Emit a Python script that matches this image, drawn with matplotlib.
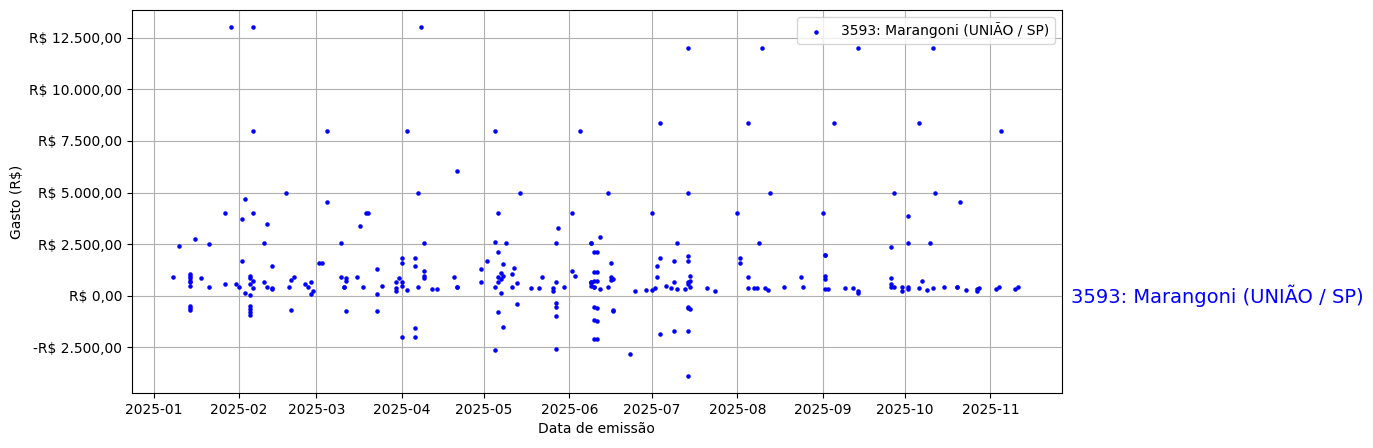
import matplotlib
matplotlib.use('Agg')
import matplotlib.pyplot as plt
import matplotlib.dates as mdates
import matplotlib.ticker as mticker
import pandas as pd

label = '3593: Marangoni (UNIÃO / SP)'

# data de emissao / gasto
datas = [
    '01-29', '02-06', '02-06', '03-05', '02-18', '02-03', '01-27', '02-06', '02-02', '02-11',
    '03-05', '03-19', '03-17', '03-10', '01-16', '01-10', '01-21', '02-10', '02-02', '02-13',
    '03-02', '03-03', '01-08', '01-14', '01-14', '01-14', '01-14', '01-14', '01-14', '01-18',
    '01-21', '01-27', '01-31', '02-01', '02-05', '02-05', '02-06', '02-05', '02-06', '02-03',
    '02-05', '02-10', '02-11', '02-13', '02-13', '02-19', '02-20', '02-21', '02-25', '02-26',
    '02-27', '02-28', '02-27', '03-10', '03-12', '03-12', '03-11', '03-18', '01-14', '01-14',
    '01-14', '02-05', '02-05', '02-05', '02-05', '02-20', '03-12',
    '04-08', '04-03', '05-05', '06-05', '04-21', '04-07', '05-14', '03-20', '05-06', '06-02',
    '05-28', '04-09', '05-05', '05-09', '05-27', '06-09', '04-01', '04-01', '04-06', '04-06',
    '04-09', '04-09', '04-09', '03-23', '03-16', '03-11', '03-25', '03-30', '03-30', '03-30',
    '03-23', '03-31', '04-01', '04-01', '04-03', '04-07', '04-12', '04-14', '04-20', '04-21',
    '04-21', '04-30', '04-30', '05-02', '05-06', '05-05', '05-08', '05-06', '05-07', '05-08',
    '05-07', '05-06', '05-07', '05-11', '05-12', '05-11', '05-13', '05-18', '05-21', '05-22',
    '05-26', '05-26', '05-27', '05-30', '06-02', '06-03', '06-09', '06-09', '06-10', '06-10',
    '06-10', '06-10', '03-23', '04-01', '04-06', '04-06', '05-05', '05-06', '05-08', '05-13',
    '05-27', '05-27', '05-27', '05-27', '06-10', '06-10', '06-10',
    '07-14', '08-10', '07-04', '08-05', '06-15', '07-14', '08-13', '07-01', '08-01', '09-01',
    '06-12', '06-09', '07-10', '08-09', '06-11', '06-16', '06-11', '06-09', '06-09', '06-10',
    '06-11', '06-12', '06-16', '06-17', '06-16', '06-15', '06-25', '06-29', '07-01', '07-02',
    '07-06', '07-03', '07-04', '07-03', '07-09', '07-09', '07-08', '07-10', '07-13', '07-14',
    '07-14', '07-15', '07-14', '07-15', '07-15', '07-14', '07-21', '07-24', '08-02', '08-02',
    '08-05', '08-05', '08-07', '08-08', '08-11', '08-12', '08-18', '08-24', '08-25', '09-02',
    '09-02', '09-02', '09-03', '06-11', '06-11', '06-11', '06-17', '06-17', '06-23', '07-04',
    '07-09', '07-14', '07-14', '07-14', '07-15', '07-14',
    '09-14', '10-11', '09-05', '10-06', '11-05', '09-27', '10-12', '10-21', '10-02', '09-26',
    '10-02', '10-10', '09-02', '09-26', '09-26', '09-26', '10-07', '09-02', '09-09', '09-12',
    '09-14', '09-14', '09-27', '09-30', '09-30', '10-02', '10-02', '10-06', '10-09', '10-11',
    '10-15', '10-20', '10-20', '10-23', '10-27', '10-27', '10-28', '11-03', '11-04', '11-10',
    '11-11',
]
gastos = [
    13000, 13000, 8000, 8000, 5000, 4700, 4000, 4000, 3700, 3500,
    4550, 4000, 3400, 2550, 2750, 2400, 2500, 2550, 1700, 1450,
    1600, 1600, 900, 1050, 950, 850, 700, 650, 500, 850,
    450, 580, 550, 450, 950, 850, 700, 550, 400, 150,
    50, 650, 450, 400, 350, 450, 750, 900, 550, 450,
    650, 250, 100, 900, 850, 700, 450, 450, -500, -600,
    -700, -500, -650, -800, -950, -700, -750,
    13000, 8000, 8000, 8000, 6050, 5000, 5000, 4000, 4000, 4000,
    3300, 2550, 2600, 2550, 2550, 2550, 1850, 1600, 1850, 1450,
    1200, 950, 850, 1300, 900, 450, 500, 400, 250, 650,
    100, 850, 650, 500, 300, 450, 350, 350, 900, 450,
    450, 1300, 650, 1700, 2100, 450, 1550, 900, 1100, 950,
    800, 650, 150, 1050, 1350, 450, 600, 400, 400, 900,
    400, 250, 650, 450, 1200, 950, 650, 600, 450, 700,
    1150, 2100, -750, -2000, -1550, -2000, -2600, -800, -1500, -400,
    -350, -550, -1000, -2550, -550, -1150, -2100,
    12000, 12000, 8350, 8350, 5000, 5000, 5000, 4000, 4000, 4000,
    2850, 2550, 2550, 2550, 2100, 1600, 1150, 650, 500, 450,
    700, 350, 900, 800, 750, 450, 250, 300, 300, 400,
    500, 1450, 1850, 900, 1700, 650, 400, 350, 350, 1950,
    1700, 950, 650, 700, 450, 550, 400, 250, 1850, 1600,
    900, 400, 400, 400, 400, 300, 450, 900, 450, 2000,
    950, 800, 350, -600, -1200, -2100, -700, -750, -2800, -1850,
    -1700, -1700, -3900, -550, -650, -600,
    12000, 12000, 8350, 8350, 8000, 5000, 5000, 4550, 3850, 2350,
    2550, 2550, 2000, 850, 550, 450, 700, 350, 400, 400,
    250, 150, 450, 250, 450, 450, 350, 400, 300, 400,
    450, 450, 450, 300, 350, 250, 400, 350, 450, 350,
    450,
]

x = pd.to_datetime(['2025-' + d for d in datas])

fig = plt.figure(figsize=(13.73, 4.48), dpi=100)
ax = fig.add_axes([0.096, 0.123, 0.6775, 0.855])
ax.scatter(x, gastos, s=5, color='blue', label=label, zorder=3)

def reais(v, pos):
    s = f'{abs(v):,.2f}'.replace(',', 'X').replace('.', ',').replace('X', '.')
    return ('-R$ ' if v < 0 else 'R$ ') + s

ax.yaxis.set_major_formatter(mticker.FuncFormatter(reais))
ax.yaxis.set_major_locator(mticker.MultipleLocator(2500))
ax.set_ylim(-4700, 13850)
ax.set_xlim(pd.Timestamp('2024-12-24'), pd.Timestamp('2025-11-27'))
ax.xaxis.set_major_locator(mdates.MonthLocator())
ax.xaxis.set_major_formatter(mdates.DateFormatter('%Y-%m'))
ax.grid(True, color='#b0b0b0')
ax.set_axisbelow(True)
ax.set_xlabel('Data de emissão')
ax.set_ylabel('Gasto (R$)')
ax.legend(loc='upper right')
ax.text(1.01, 0, label, transform=ax.get_yaxis_transform(), color='blue',
        fontsize=14, va='center', ha='left')

fig.savefig('out.png')
